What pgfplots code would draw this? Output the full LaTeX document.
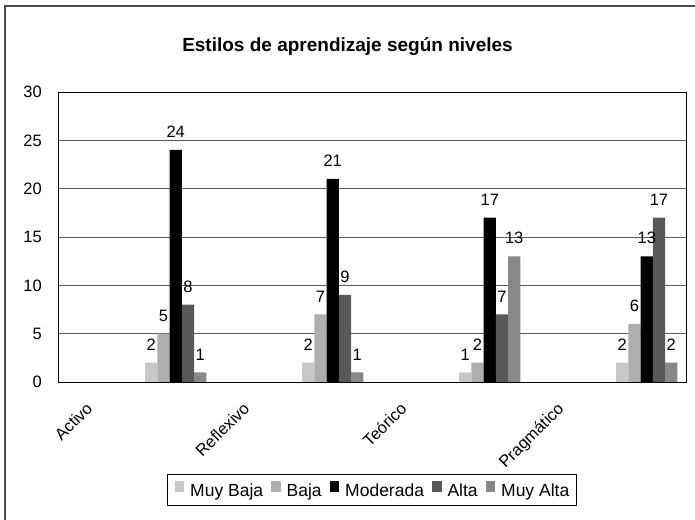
\documentclass[border=0pt]{standalone}
\usepackage{pgfplots}
\pgfplotsset{compat=1.18}
\usepackage{fontspec}
\setmainfont{Liberation Sans}
\definecolor{cMB}{RGB}{200,200,200}
\definecolor{cB}{RGB}{174,174,174}
\definecolor{cA}{RGB}{88,88,88}
\definecolor{cMA}{RGB}{136,136,136}
\begin{document}
\begin{tikzpicture}
\useasboundingbox (0,0) rectangle (695bp,520bp);
\fill[white] (0,0) rectangle (695bp,520bp);
\draw[black!70, line width=1.5bp] (5bp,0) -- (5bp,514bp) -- (695bp,514bp);
\node[anchor=base, font=\fontsize{19bp}{21bp}\selectfont\bfseries] at (347.5bp,468bp) {Estilos de aprendizaje según niveles};
\begin{axis}[
 at={(58bp,138bp)}, anchor=south west,
 scale only axis, width=628bp, height=290bp,
 xmin=0, xmax=4, ymin=0, ymax=30,
 ybar=0pt, bar width=0.078,
 ytick={0,5,...,30},
 xtick={0.172,1.172,2.172,3.172},
 xticklabels={Activo,Reflexivo,Teórico,Pragmático},
 major tick length=0pt,
 ymajorgrids, grid style={black!65, line width=0.75bp},
 axis line style={black, line width=0.75bp},
 tick label style={font=\fontsize{16.5bp}{18bp}\selectfont},
 /pgf/number format/assume math mode=true,
 xticklabel style={yshift=-19bp, rotate=45, anchor=north east, inner sep=0pt},
 yticklabel style={xshift=-16bp, anchor=east, inner sep=0pt},
 nodes near coords,
 every node near coord/.append style={font=\fontsize{16.5bp}{18bp}\selectfont, anchor=south, inner sep=0pt, yshift=12bp, black},
 legend style={at={(0.5,-0.371)}, anchor=center, legend columns=-1, draw=black, line width=0.75bp,
   font=\fontsize{17.5bp}{19bp}\selectfont, inner xsep=7bp, inner ysep=7bp, nodes={inner sep=0pt},
   /tikz/every odd column/.append style={column sep=6bp},
   /tikz/every even column/.append style={column sep=8bp}},
 legend image code/.code={\fill[#1] (0bp,-1bp) rectangle (9.5bp,10bp);},
]
\addplot[fill=cMB, draw=none] coordinates {(0.75,2) (1.75,2) (2.75,1) (3.75,2)};
\addplot[fill=cB, draw=none] coordinates {(0.75,5) (1.75,7) (2.75,2) (3.75,6)};
\addplot[fill=black, draw=none] coordinates {(0.75,24) (1.75,21) (2.75,17) (3.75,13)};
\addplot[fill=cA, draw=none] coordinates {(0.75,8) (1.75,9) (2.75,7) (3.75,17)};
\addplot[fill=cMA, draw=none] coordinates {(0.75,1) (1.75,1) (2.75,13) (3.75,2)};
\legend{Muy Baja, Baja, Moderada, Alta, Muy Alta}
\end{axis}
\end{tikzpicture}
\end{document}
